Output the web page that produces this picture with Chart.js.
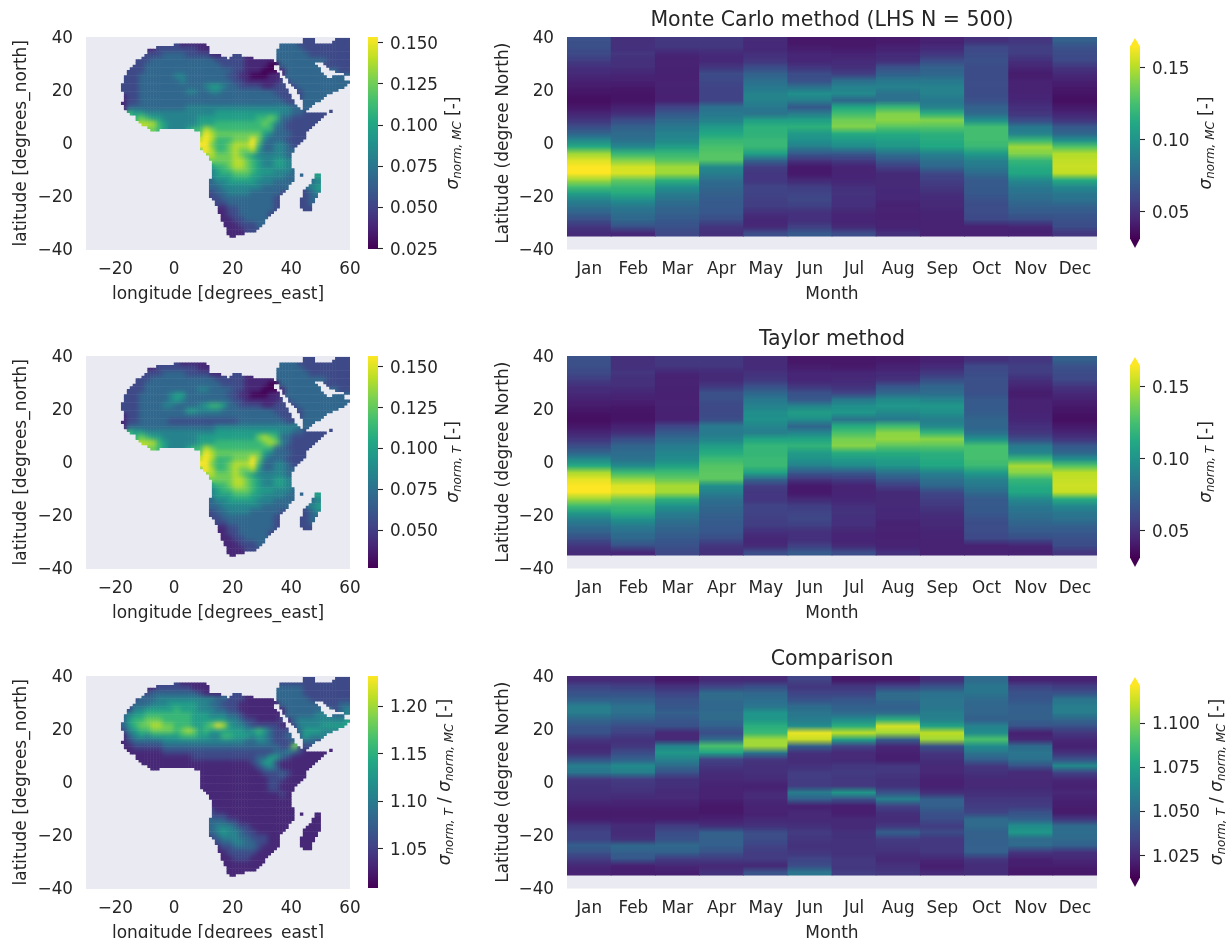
<!DOCTYPE html>
<html><head><meta charset="utf-8">
<script src="https://cdn.jsdelivr.net/npm/chart.js@4"></script>
<style>
html,body{margin:0;padding:0;background:#fff;width:1229px;height:938px;overflow:hidden}
canvas{position:absolute;filter:blur(.45px)}
</style></head><body>
<script>
const months=["Jan","Feb","Mar","Apr","May","Jun","Jul","Aug","Sep","Oct","Nov","Dec"];
const latEdges=[40,37.5,35,32.5,30,27.5,25,22.5,20,17.5,15,12.5,10,7.5,5,2.5,0,-2.5,-5,-7.5,-10,-12.5,-15,-17.5,-20,-22.5,-25,-27.5,-30,-32.5,-35];
const latTicks=[-40,-20,0,20,40];
const lonTicks=[-20,0,20,40,60];
// zonal means: thousandths of sigma, one list per month, north to south
const hovMC=[
[62,60,58,52,46,44,40,38,35,33,36,42,49,60,72,92,112,145,158,165,165,145,123,105,88,79,70,60,49,44],
[46,46,49,46,46,42,40,37,35,35,40,46,59,70,75,79,92,119,139,156,158,132,119,112,95,83,77,73,62,42],
[50,49,42,40,40,40,40,40,40,40,55,66,75,83,88,92,105,119,128,145,145,115,96,86,79,73,70,66,62,57],
[50,49,44,43,49,59,57,55,54,55,79,83,88,102,110,119,125,128,128,92,86,77,73,70,67,66,65,59,49,46],
[44,43,46,49,59,70,77,83,88,88,83,80,105,115,116,119,119,105,73,53,49,49,55,55,53,52,46,42,44,59],
[36,38,42,42,49,59,62,79,96,86,66,86,105,115,102,96,86,66,49,37,37,44,52,55,57,53,46,46,53,66],
[36,37,41,44,46,53,77,88,92,73,110,123,135,139,112,102,92,66,52,41,41,42,46,48,46,46,42,41,44,59],
[37,40,44,46,62,70,83,88,79,79,119,139,141,128,112,105,99,79,66,53,44,44,44,43,42,40,40,40,41,46],
[40,44,49,59,70,73,83,88,88,83,88,115,139,128,115,112,110,88,79,73,57,53,50,46,44,44,41,41,40,40],
[46,57,59,62,59,59,59,59,59,62,70,75,96,123,123,123,119,102,88,83,75,66,66,66,62,59,59,57,40,40],
[49,53,52,46,42,38,40,40,41,42,46,49,59,83,88,119,145,139,119,112,110,92,83,79,75,70,66,59,42,40],
[70,62,59,57,49,44,40,37,35,33,37,42,49,66,73,96,128,149,152,154,152,112,92,83,79,70,66,62,59,49]];
const hovT=[
[62,60,58,52,46,44,40,38,35,33,36,42,49,60,72,92,112,148,160,165,165,145,122,103,87,78,70,60,49,44],
[46,46,49,46,46,42,40,37,35,35,40,46,60,72,76,80,93,122,142,158,160,135,121,114,97,85,78,73,62,42],
[50,49,42,40,40,40,40,40,40,40,56,67,76,85,90,94,107,122,132,147,146,115,97,87,80,74,70,66,62,57],
[50,49,44,44,50,61,60,58,58,60,84,84,90,104,112,121,128,130,130,95,87,78,74,71,68,66,65,59,49,46],
[44,44,47,50,61,73,83,88,95,97,90,86,108,118,118,120,120,106,74,53,49,49,55,55,53,52,46,42,44,59],
[36,38,42,42,49,62,66,90,104,95,72,90,108,117,103,97,87,66,49,37,37,44,52,55,57,53,46,46,53,66],
[36,37,42,44,47,55,82,96,100,80,112,125,137,140,113,102,92,66,52,41,41,42,46,48,46,46,42,41,44,59],
[37,40,44,47,64,74,93,100,92,83,122,141,143,129,113,105,99,79,66,53,44,44,44,43,42,40,40,40,41,46],
[40,44,50,60,72,76,90,100,96,86,92,118,141,129,115,112,110,88,79,73,57,53,50,46,44,44,41,41,40,40],
[46,57,59,62,60,61,66,66,68,72,72,78,98,124,124,124,120,102,88,83,75,66,66,66,62,59,59,57,40,40],
[49,53,52,46,42,38,40,40,41,42,46,49,60,84,90,120,147,140,119,112,110,92,83,79,75,70,66,59,42,40],
[70,62,59,57,49,44,40,37,35,33,37,42,49,66,73,96,128,151,153,155,153,112,92,83,79,70,66,62,59,49]];
// ratio minus one, thousandths
const hovRatio=[
[18,28,34,40,54,54,43,36,34,23,18,20,34,55,50,23,21,21,19,15,13,14,23,28,28,40,34,25,18,15],
[18,26,34,40,48,48,40,32,27,21,23,32,40,61,54,25,23,21,18,15,13,14,19,19,21,45,40,36,15,14],
[12,21,28,34,36,40,36,34,18,18,56,67,56,45,34,21,21,18,18,15,13,14,25,32,34,45,40,25,18,14],
[18,28,45,45,43,45,45,40,32,45,88,72,28,23,19,18,16,15,15,12,12,15,20,40,40,40,34,25,18,21],
[18,32,43,47,50,65,67,78,83,105,105,50,23,20,20,19,15,18,18,16,15,18,21,32,32,28,25,25,18,34],
[28,23,28,34,45,50,54,61,118,112,40,21,19,21,25,25,25,54,40,15,18,18,20,25,23,21,23,28,32,50],
[12,23,28,36,40,45,61,78,110,72,28,18,18,23,25,23,23,67,34,14,14,18,18,21,21,21,21,23,23,25],
[12,28,45,45,40,45,78,115,105,40,18,15,14,23,23,21,21,34,56,28,21,19,23,40,25,23,21,18,21,23],
[20,34,48,50,50,54,56,72,110,105,34,23,20,18,18,15,15,20,40,40,34,32,25,32,23,23,23,18,14,18],
[45,50,50,45,43,43,40,56,61,88,61,50,40,23,21,18,18,20,23,25,28,45,45,40,40,40,40,23,19,19],
[15,28,34,36,40,40,40,34,15,18,45,50,48,34,18,18,18,20,23,25,34,40,61,67,45,45,23,15,14,12],
[15,25,34,50,54,54,43,34,23,18,15,21,34,61,28,18,15,18,15,14,13,23,45,47,45,40,21,18,14,12]];
const mapLats=[39,37,35,33,31,29,27,25,23,21,19,17,15,13,11,9,7,5,3,1,-1,-3,-5,-7,-9,-11,-13,-15,-17,-19,-21,-23,-25,-27,-29,-31,-33,-35];
// each row: "startLongitude:levels" runs on a 2 degree grid, level 0-9 spans the colour bar
const mapMC=[
"44:22 54:222","2:11111 36:333222222222","-10:11222222211 34:3333322222222","-10:2223333222211 34:3333332222222",
"-14:222333333333332222211111 34:3333333332222","-16:2223333333333333222211110 36:333333 52:2222",
"-16:22233333333333333322111000 38:33333 54:322","-18:222333333443333333221100011 40:333333 54:33",
"-18:222333333343333333322111111 40:333333333","-18:2223333333333345543322221122 42:33333333",
"-18:22233333333443344333333333222 44:333333","-18:122333333333333333333333333222 44:3333",
"-18:1223333333333333333333333333222 44:33","-18:1333333333344444444444444444433 44:33",
"-14:554444444444445555555555544332222","-14:67655444444555555555566763322222",
"-10:88654444455566666666764322222","-8:765444566876666666666332222",
"8:798777777775433322","8:89866677797433322","8:99766788896334432","8:7986678778533443",
"12:87778765444443","12:77778876544554","14:6678876544554","14:56677765554443 42:3",
"12:455566655444433 48:5","12:34455555444333 46:345","12:3344444443333 44:345","12:233444433333 44:234",
"14:23333333332 44:233","14:22333333332 44:23","16:1223333332 44:22","16:122333332","16:11223333","18:112223","18:11122","18:11"];
const mapT=[
"44:22 54:222","2:11111 36:333222222222","-10:11222222211 34:3333322222222","-10:2223333222211 34:3333332222222",
"-14:222333333333332222211111 34:3333333332222","-16:2223333333333333222211110 36:333333 52:2222",
"-16:22233333333344333322111000 38:33333 54:322","-18:222333334553333333221100011 40:333333 54:33",
"-18:222333334543333333322111111 40:333333333","-18:2223333443333456653322221122 42:33333333",
"-18:22233333333554444333333333222 44:333333","-18:122333333333333333333333333222 44:3333",
"-18:1223333322222222222233333333222 44:33","-18:1333333333333333444444444444443 44:33",
"-14:554444444444445555555555544332222","-14:67655444444555555555578763322222",
"-10:88654444455566666666787432222","-8:765444566876666666666332222",
"8:798777777775433322","8:89866677797433322","8:99766788896334432","8:7986678778533443",
"12:87778765444443","12:77778876544554","14:6678876544554","14:56677765554443 42:3",
"12:455566655444433 48:5","12:34455555444333 46:345","12:3344444443333 44:345","12:233444433333 44:234",
"14:23333333332 44:233","14:22333333332 44:23","16:1223333332 44:22","16:122333332","16:11223333","18:112223","18:11122","18:11"];
const mapRatio=[
"44:22 54:222","2:11111 36:222222222222","-10:11222222111 34:3333322222222","-10:2333333332111 34:3333322222222",
"-14:233344444444443322211111 34:3333332222222","-16:2333444555554433222111111 36:333333 52:2233",
"-16:24455555655544433221111111 38:33333 54:234","-18:345566666666555444332111111 40:333344 54:33",
"-18:356677766666555555443221111 40:344444444","-18:3567788776665567985443222221 42:44445555",
"-18:24566777767875655555545653222 44:555444","-18:134545555566655446655545432233 44:5444",
"-18:1233333444444444444443344322233 44:33","-18:1122222333333333333333333332272 44:22",
"-14:1111122222222222222222223343211111","-14:11111111112222222222233553211111",
"-10:11111111111111111123552111111","-8:11111111111111111123431111",
"8:111111111112223211","8:11111111111122211","8:11111111111122111","8:1111111111112211",
"12:11111111111121","12:11111111111111","14:1111111111111","14:11111111111111 42:1",
"12:222111111111111 48:1","12:33322111111111 46:111","12:3444322111111 44:111","12:345443221111 44:111",
"14:34443322211 44:111","14:23344332211 44:11","16:2233332111 44:11","16:122222111","16:11222111","18:111111","18:11111","18:11"];
// coastline: land spans "west,east" in whole degrees, one row per degree of latitude from 39 N down to 35 S
const coast=["44,47 55,59","44,47 54,59","0,10 36,59","-6,11 36,59","-9,11 35,59","-9,11 35,59","-10,15 20,22 35,59","-11,17 19,26 35,59","-13,18 19,33 35,59","-13,34 35,47 51,59",
"-14,33 36,48 52,59","-15,33 36,49 53,59","-16,34 37,49 55,59","-16,35 37,50 58,59","-17,35 38,51 54,57","-17,36 39,57","-17,36 39,59","-18,37 40,58","-18,37 41,57","-18,38 42,55",
"-17,38 42,53","-17,39 43,51","-17,39 43,50","-17,40 44,49","-18,40 44,47","-17,41 44,46","-17,42 44,45","-16,44 53,53","-15,51","-13,50",
"-13,49","-12,48","-11,47","-9,46","-8,-6 7,45","9,44","9,44","9,44","9,43","9,42",
"9,41","9,40","10,40","11,39","12,39","12,39","13,39","13,39","13,39","13,40",
"13,40","13,40 43,43 48,49","13,40 48,49","12,40 47,49","12,39 47,49","12,38 46,49","12,38 45,49","12,37 44,49","12,36 44,48","12,35 44,48",
"13,35 43,47","14,35 43,47","14,35 43,46","15,35 43,46","15,34 44,46","15,33","16,32","16,31","16,30","17,30",
"17,29","18,28","18,27","18,23","19,20"];

const viridis=["#440154","#482475","#414487","#355f8d","#2a788e","#21918c","#22a884","#44bf70","#7ad151","#bddf26","#fde725"];
const ink="#262626", face="#eaeaf2", FONT="'DejaVu Sans'", TICK=16.8, AXIS=17;
const hex=c=>[1,3,5].map(i=>parseInt(c.substr(i,2),16));
function colour(v,lo,hi){
  const t=Math.max(0,Math.min(1,(v-lo)/(hi-lo)))*10, i=Math.min(9,Math.floor(t)), f=t-i;
  const a=hex(viridis[i]),b=hex(viridis[i+1]);
  return `rgb(${a.map((x,k)=>Math.round(x+(b[k]-x)*f)).join(",")})`;
}
Chart.defaults.animation=false;
Chart.defaults.responsive=false;
Chart.defaults.font.family=FONT;
Chart.defaults.color=ink;
Chart.defaults.plugins.legend.display=false;
Chart.defaults.plugins.tooltip.enabled=false;

const facePlugin={id:"face",beforeDraw(c){const a=c.chartArea;c.ctx.save();c.ctx.fillStyle=face;c.ctx.fillRect(a.left,a.top,a.right-a.left,a.bottom-a.top);c.ctx.restore();}};
function snapshot(src,x,y,w,h){const o=document.createElement("canvas");o.width=w;o.height=h;o.getContext("2d").drawImage(src,x,y,w,h,0,0,w,h);return o;}
// soften the colour steps inside the land mask, leave the coast crisp, then lay the axes face under it
const landPlugin={id:"land",afterDatasetsDraw(c){
  const a=c.chartArea,x=Math.floor(a.left),y=Math.floor(a.top),w=Math.ceil(a.right-a.left),h=Math.ceil(a.bottom-a.top);
  const s=snapshot(c.canvas,x,y,w,h),b=document.createElement("canvas");b.width=w;b.height=h;
  const bx=b.getContext("2d");bx.filter="blur(2.4px)";bx.drawImage(s,0,0);
  const sx=s.getContext("2d");sx.globalCompositeOperation="source-atop";sx.drawImage(b,0,0);
  const g=c.ctx;g.save();g.clearRect(x,y,w,h);g.drawImage(s,x,y);
  g.globalCompositeOperation="destination-over";g.fillStyle=face;g.fillRect(x,y,w,h);g.restore();
}};
// vertical smoothing of the latitude bands
const bandPlugin={id:"bands",afterDatasetsDraw(c){
  const a=c.chartArea,x=Math.floor(a.left),y=Math.floor(a.top),w=Math.ceil(a.right-a.left),bot=Math.round(c.scales.y.getPixelForValue(latEdges[latEdges.length-1])),h=bot-y;
  const s=snapshot(c.canvas,x,y,w,h),g=c.ctx;g.save();g.beginPath();g.rect(x,y,w,h);g.clip();
  [-3,-2,-1,0,1,2,3].forEach((d,i)=>{g.globalAlpha=1/(i+1);g.drawImage(s,x,y+d);});g.restore();
}};
function canvas(l,t,w,h){const e=document.createElement("canvas");e.width=w;e.height=h;e.style.left=l+"px";e.style.top=t+"px";document.body.appendChild(e);return e;}
const minus=s=>String(s).replace("-","\u2212");
function yAxis(title,w){return {type:"linear",min:-40,max:40,afterBuildTicks(s){s.ticks=latTicks.map(v=>({value:v}));},afterFit(s){s.width=w;s.paddingTop=0;s.paddingBottom=0;},
  grid:{display:false,drawTicks:false},border:{display:false},
  ticks:{padding:13,labelOffset:1.5,font:{size:TICK},callback:v=>minus(v)},
  title:{display:true,text:title,font:{size:AXIS},padding:0}};}
function xTitle(t){return {display:true,text:t,font:{size:AXIS},padding:{top:0,bottom:0}};}

function mapChart(top,rows,lo,hi){
  const grid=new Map();
  rows.forEach((r,k)=>r.split(" ").forEach(run=>{const [s,l]=run.split(":");[...l].forEach((ch,i)=>grid.set(mapLats[k]+"|"+(+s+2*i),+ch));}));
  const level=(lat,lon)=>{
    const gy=2*Math.floor((lat-1)/2)+1, gx=2*Math.floor(lon/2);
    for(let rad=0;rad<=3;rad++)for(let dy=-rad;dy<=rad;dy++)for(let dx=-rad;dx<=rad;dx++){
      const v=grid.get((gy+2*dy)+"|"+(gx+2*dx));if(v!==undefined)return v;}
    return 1;
  };
  const datasets=coast.map((r,k)=>{
    const lat=39-k,data=[],bg=[];
    r.split(" ").forEach(sp=>{const [w,e]=sp.split(",").map(Number);
      for(let lon=w;lon<=e;lon++){data.push({x:lon+.5,y:[lat-.5,lat+.5]});bg.push(colour(lo+level(lat,lon)/9*(hi-lo),lo,hi));}});
    return {data,backgroundColor:bg,grouped:false,barThickness:264/90,inflateAmount:.25,borderWidth:0};
  });
  new Chart(canvas(11,top-30,359,298),{type:"bar",data:{datasets},plugins:[landPlugin],options:{
    layout:{padding:{top:30,right:20,left:0,bottom:0}},
    scales:{x:{type:"linear",offset:false,min:-30,max:60,afterBuildTicks(s){s.ticks=lonTicks.map(v=>({value:v}));},afterFit(s){s.height=55.5;s.paddingLeft=0;s.paddingRight=0;},
      grid:{display:false,drawTicks:false},border:{display:false},
      ticks:{padding:10.5,maxRotation:0,font:{size:TICK},callback:v=>minus(v)},title:xTitle("longitude [degrees_east]")},
      y:yAxis("latitude [degrees_north]",75)}}});
}
function hovChart(top,series,scale,offset,lo,hi,title){
  const datasets=latEdges.slice(0,-1).map((e,r)=>({
    data:months.map((m,i)=>({x:m,y:[latEdges[r+1],e]})),
    backgroundColor:months.map((m,i)=>colour(offset+series[i][r]/scale,lo,hi)),
    grouped:false,barPercentage:1,categoryPercentage:1,inflateAmount:.4,borderWidth:0}));
  new Chart(canvas(493,top-30,614,298),{type:"bar",data:{labels:months,datasets},plugins:[facePlugin,bandPlugin],options:{
    layout:{padding:{top:0,right:10,left:0,bottom:0}},
    plugins:{title:{display:true,fullSize:false,text:title,color:ink,font:{size:20.5,weight:"normal",lineHeight:1.2},padding:{top:1.5,bottom:3.9}}},
    scales:{x:{type:"category",afterFit(s){s.height=55.5;},grid:{display:false,drawTicks:false},border:{display:false},
      ticks:{padding:10.5,maxRotation:0,autoSkip:false,font:{size:TICK}},title:xTitle("Month")},
      y:yAxis("Latitude (degree North)",74)}}});
}
function colourBar(left,top,w,c){
  const W=10;
  const labelPlugin={id:"barLabel",afterDraw(ch){
    const x=ch.ctx;x.save();x.translate(c.labelX-left,c.labelMid+30);x.rotate(-Math.PI/2);
    x.fillStyle=ink;x.textBaseline="alphabetic";
    const set=p=>p.sub?`italic ${AXIS*.7}px ${FONT}`:(p.it?`italic ${AXIS}px ${FONT}`:`${AXIS}px ${FONT}`);
    let tot=0;c.parts.forEach(p=>{x.font=set(p);tot+=x.measureText(p.t).width;});
    let px=-tot/2;c.parts.forEach(p=>{x.font=set(p);x.fillText(p.t,px,p.sub?9:5.5);px+=x.measureText(p.t).width;});
    x.restore();
    if(c.extend){const sc=ch.scales.y,a=ch.chartArea,y1=sc.getPixelForValue(c.hi),y0=sc.getPixelForValue(c.lo),m=(a.left+a.right)/2;
      const g=ch.ctx;g.save();g.fillStyle=viridis[10];g.beginPath();g.moveTo(a.left,y1+.5);g.lineTo(a.right,y1+.5);g.lineTo(m,a.top+1);g.fill();
      g.fillStyle=viridis[0];g.beginPath();g.moveTo(a.left,y0-.5);g.lineTo(a.right,y0-.5);g.lineTo(m,a.bottom-1);g.fill();g.restore();}
  }};
  new Chart(canvas(left,top-30,w,252),{type:"bar",data:{labels:[""],datasets:[{data:[[c.lo,c.hi]],grouped:false,barPercentage:1,categoryPercentage:1,borderWidth:0,inflateAmount:0,
    backgroundColor(ctx){const ch=ctx.chart,s=ch.scales.y;if(!s||!ch.chartArea)return viridis[5];
      const g=ch.ctx.createLinearGradient(0,s.getPixelForValue(c.lo),0,s.getPixelForValue(c.hi));viridis.forEach((v,i)=>g.addColorStop(i/10,v));return g;}}]},
    plugins:[labelPlugin],options:{layout:{padding:{top:30,bottom:10,left:0,right:0}},
    scales:{x:{display:false,type:"category"},
      y:{position:"right",min:c.min,max:c.max,afterBuildTicks(s){s.ticks=c.ticks.map(v=>({value:+v}));},afterFit(s){s.width=w-W;s.paddingTop=0;s.paddingBottom=0;},
        grid:{display:true,drawOnChartArea:false,drawTicks:true,tickLength:5,color:ink,tickWidth:1.1},border:{display:false},
        ticks:{padding:7,labelOffset:1.5,font:{size:TICK},callback:v=>c.ticks.find(t=>+t===v)}}}}});
}
const rowTops=[37,356,676];
const barMC=["0.025","0.050","0.075","0.100","0.125","0.150"];
const barT=["0.050","0.075","0.100","0.125","0.150"];
const barRatio=["1.05","1.10","1.15","1.20"];
const barHov=["0.05","0.10","0.15"];
const barHovR=["1.025","1.050","1.075","1.100"];
const sig=(n)=>[{t:"\u03c3",it:1},{t:n,sub:1}];
const lblMC=[...sig("norm, MC"),{t:" [-]"}], lblT=[...sig("norm, T"),{t:" [-]"}];
const lblR=[...sig("norm, T"),{t:" / "},...sig("norm, MC"),{t:" [-]"}];

mapChart(rowTops[0],mapMC,.0248,.1535);
mapChart(rowTops[1],mapT,.0267,.1567);
mapChart(rowTops[2],mapRatio,1.0088,1.2317);
hovChart(rowTops[0],hovMC,1000,0,.027,.165,"Monte Carlo method (LHS N = 500)");
hovChart(rowTops[1],hovT,1000,0,.027,.165,"Taylor method");
hovChart(rowTops[2],hovRatio,1000,1,1.004,1.1216,"Comparison");
colourBar(368,rowTops[0],125,{lo:.0248,hi:.1535,min:.0248,max:.1535,ticks:barMC,parts:lblMC,labelX:452,labelMid:106});
colourBar(368,rowTops[1],125,{lo:.0267,hi:.1567,min:.0267,max:.1567,ticks:barT,parts:lblT,labelX:452,labelMid:106});
colourBar(368,rowTops[2],125,{lo:1.0088,hi:1.2317,min:1.0088,max:1.2317,ticks:barRatio,parts:lblR,labelX:444,labelMid:106});
colourBar(1130,rowTops[0],99,{lo:.0313,hi:.1653,min:.0243,max:.1715,ticks:barHov,parts:lblMC,labelX:1205,labelMid:106,extend:1});
colourBar(1130,rowTops[1],99,{lo:.0313,hi:.1653,min:.0243,max:.1715,ticks:barHov,parts:lblT,labelX:1205,labelMid:106,extend:1});
colourBar(1130,rowTops[2],99,{lo:1.0125,hi:1.1216,min:1.0068,max:1.1267,ticks:barHovR,parts:lblR,labelX:1216,labelMid:106,extend:1});
</script>
</body></html>
